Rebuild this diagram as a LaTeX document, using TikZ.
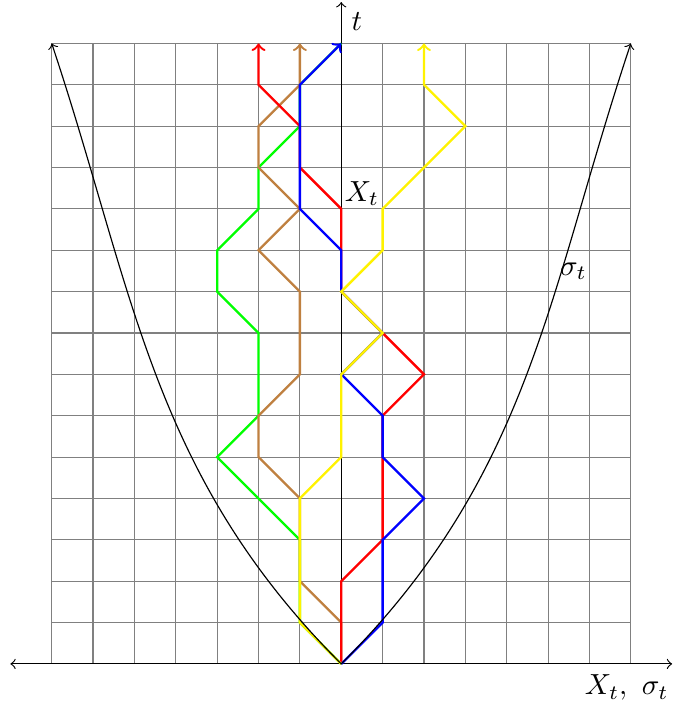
\documentclass[tikz,border=0pt]{standalone}
\usepackage{tikz}

\begin{document}
\begin{tikzpicture}[scale=0.5,>=to,walk/.style={thick}]
  \useasboundingbox (-8.25,-1.09) rectangle (8.02,16.05);
  \coordinate (O) at (0,0);
  \coordinate (L) at (-8,0);
  \coordinate (R) at (8,0);
  \coordinate (T) at (0,16);
  \draw[gray] (-7,0) grid (7,15);
  \draw[<->] (L)--(R);
  \draw[->] (O)--(T);
  % random walks
  \draw[walk,green] (0,0)--(-1,1)--(-1,3)--(-2,4)--(-3,5)--(-2,6)--(-2,8)--(-3,9)--(-3,10)--(-2,11)--(-2,12)--(-1,13)--(-1,14)--(0,15);
  \draw[walk,brown,->] (0,0)--(0,1)--(-1,2)--(-1,4)--(-2,5)--(-2,6)--(-1,7)--(-1,9)--(-2,10)--(-1,11)--(-2,12)--(-2,13)--(-1,14)--(-1,15);
  \draw[walk,red,->] (0,0)--(0,2)--(1,3)--(1,6)--(2,7)--(1,8)--(0,9)--(0,11)--(-1,12)--(-1,13)--(-2,14)--(-2,15);
  \draw[walk,blue,->] (0,0)--(1,1)--(1,3)--(2,4)--(1,5)--(1,6)--(0,7)--(1,8)--(0,9)--(0,10)--(-1,11)--(-1,14)--(0,15);
  \draw[walk,yellow,->] (0,0)--(-1,1)--(-1,4)--(0,5)--(0,7)--(1,8)--(0,9)--(1,10)--(1,11)--(2,12)--(3,13)--(2,14)--(2,15);
  % spread
  \draw[<->] (-7,15) .. controls (-5,9) and (-4.6,4.6) .. (O) .. controls (4.6,4.6) and (5,9) .. (7,15);
  \node[below right] (tlab) at (T) {$t$};
  \node[above right,inner sep=1pt] (Xt) at (0,11) {$X_t$};
  \node[right,inner sep=2.5pt] (sig) at (5.1,9.5) {$\sigma_t$};
  \node[below left,inner sep=1pt] (xlab) at (8,-0.18) {$X_t,\ \sigma_t$};
\end{tikzpicture}
\end{document}
